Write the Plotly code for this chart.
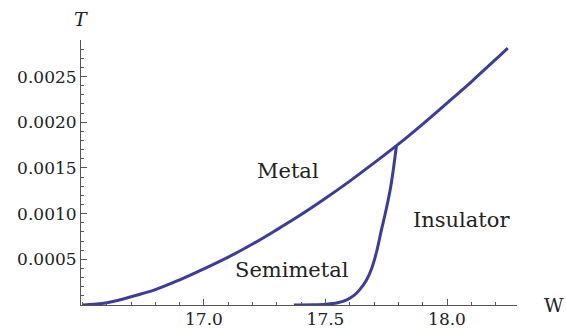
import plotly.graph_objects as go

# Phase boundary between metal and the two low-temperature phases
metal_w = [16.50, 16.60, 16.70, 16.80, 16.90, 17.00, 17.10, 17.20, 17.30, 17.40, 17.50,
           17.60, 17.70, 17.80, 17.90, 18.00, 18.10, 18.20, 18.25]
metal_t = [0.0, 0.000025, 0.000090, 0.000168, 0.000275, 0.000396, 0.000524, 0.000667,
           0.000825, 0.000990, 0.001168, 0.001356, 0.001555, 0.001760, 0.001980,
           0.002210, 0.002443, 0.002687, 0.002812]

# Boundary separating semimetal from insulator
insul_w = [17.37, 17.45, 17.50, 17.55, 17.59, 17.62, 17.64, 17.67, 17.69, 17.71,
           17.73, 17.75, 17.77, 17.792]
insul_t = [0.0, 0.000002, 0.000008, 0.000025, 0.000060, 0.000110, 0.000165, 0.000280,
           0.000400, 0.000580, 0.000820, 0.001050, 0.001320, 0.001745]

x_ticks = [17.0, 17.5, 18.0]
x_tick_text = ["17.0", "17.5", "18.0"]
y_ticks = [0.0005, 0.0010, 0.0015, 0.0020, 0.0025]
y_tick_text = ["0.0005", "0.0010", "0.0015", "0.0020", "0.0025"]

phase_names = ["Metal", "Semimetal", "Insulator"]
phase_w = [17.346, 17.364, 18.060]
phase_t = [0.00147, 0.00038, 0.00093]

line_color = "#3c3c9a"
axis_color = "#555555"
text_color = "#222222"
font_family = "DejaVu Serif"
tick_font = dict(family=font_family, size=17, color=text_color)

fig = go.Figure()
for w, t in [(metal_w, metal_t), (insul_w, insul_t)]:
    fig.add_trace(go.Scatter(x=w, y=t, mode="lines",
                             line=dict(color=line_color, width=3, shape="spline", smoothing=1.0),
                             showlegend=False, hoverinfo="skip"))

for name, w, t in zip(phase_names, phase_w, phase_t):
    fig.add_annotation(x=w, y=t, xref="x", yref="y", text=name, showarrow=False,
                       font=dict(family=font_family, size=21, color=text_color))

fig.add_annotation(x=0, y=1, xref="paper", yref="paper", xanchor="center", yanchor="bottom",
                   yshift=8, text="<i>T</i>", showarrow=False,
                   font=dict(family=font_family, size=19, color=text_color))
fig.add_annotation(x=1, y=0, xref="paper", yref="paper", xanchor="left", yanchor="middle",
                   xshift=25, text="W", showarrow=False,
                   font=dict(family=font_family, size=19, color=text_color))

fig.update_layout(
    width=566, height=330,
    margin=dict(l=81, r=49, t=40, b=25, autoexpand=False),
    paper_bgcolor="white", plot_bgcolor="white",
    font=dict(family=font_family, size=17, color=text_color),
    xaxis=dict(range=[16.494, 18.288], showgrid=False, zeroline=False, automargin=False,
               showline=True, linecolor=axis_color, linewidth=1,
               tickmode="array", tickvals=x_ticks, ticktext=x_tick_text, tickfont=tick_font,
               ticks="inside", ticklen=6, tickcolor=axis_color, tickwidth=1,
               ticklabelstandoff=-1,
               minor=dict(ticks="inside", ticklen=3, dtick=0.1, tick0=16.5,
                          tickcolor=axis_color, showgrid=False)),
    yaxis=dict(range=[0, 0.0029], showgrid=False, zeroline=False, automargin=False,
               showline=True, linecolor=axis_color, linewidth=1,
               tickmode="array", tickvals=y_ticks, ticktext=y_tick_text, tickfont=tick_font,
               ticks="inside", ticklen=6, tickcolor=axis_color, tickwidth=1,
               minor=dict(ticks="inside", ticklen=3, dtick=0.0001, tick0=0,
                          tickcolor=axis_color, showgrid=False)),
)

fig.write_html("out.html")
